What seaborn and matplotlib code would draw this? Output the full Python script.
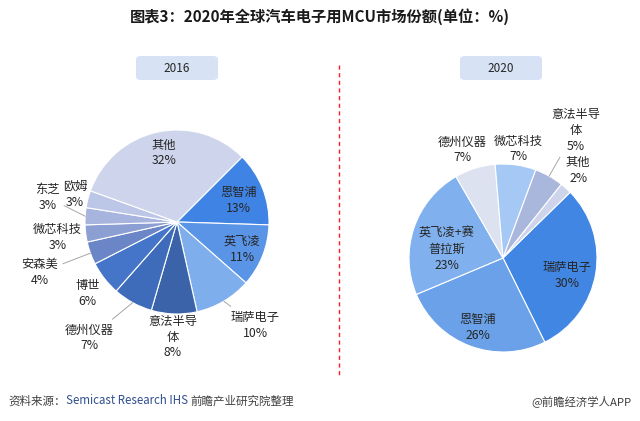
import numpy as np
import matplotlib
matplotlib.use('Agg')
import matplotlib.pyplot as plt
import seaborn as sns
from matplotlib.patches import FancyBboxPatch
from matplotlib.lines import Line2D

sns.set_theme(style='white')
# 中文字体, 缺字时回落到 DejaVu Sans
plt.rcParams['font.family'] = ['Noto Sans CJK SC', 'DejaVu Sans']

# 2016年市场份额
names_2016 = ['恩智浦', '英飞凌', '瑞萨电子', '意法半导\n体', '德州仪器', '博世',
              '安森美', '微芯科技', '东芝', '欧姆', '其他']
shares_2016 = [13, 11, 10, 8, 7, 6, 4, 3, 3, 3, 32]

# 2020年市场份额
names_2020 = ['瑞萨电子', '恩智浦', '英飞凌+赛\n普拉斯', '德州仪器', '微芯科技',
              '意法半导\n体', '其他']
shares_2020 = [30, 26, 23, 7, 7, 5, 2]

# 颜色
colors_2016 = ['#3F84E5', '#5A94E7', '#7FAEEC', '#3A63AA', '#3E6CBA', '#4575C9',
               '#6B86C6', '#8C9FD3', '#A7B4DE', '#BCC6E6', '#CDD4EB']
colors_2020 = ['#4286E4', '#6AA1E9', '#80B1EE', '#DDE2F1', '#A5C9F4', '#AAB7DD', '#CDD4EB']

# 标签位置(单位: 饼图半径), 是否画引线
pos_2016 = [(0.67, 0.23), (0.71, -0.30), (0.85, -1.12), (-0.05, -1.25), (-0.95, -1.26),
            (-0.97, -0.78), (-1.49, -0.55), (-1.30, -0.17), (-1.41, 0.27), (-1.11, 0.30),
            (-0.14, 0.75)]
lead_2016 = [False, False, True, False, True, False, True, False, True, False, False]
pos_2020 = [(0.68, -0.19), (-0.27, -0.74), (-0.60, 0.09), (-0.43, 1.15), (0.16, 1.16),
            (0.77, 1.36), (0.80, 0.93)]
lead_2020 = [False, False, False, False, False, True, False]

W, H = 640, 421
fig = plt.figure(figsize=(W / 100, H / 100), dpi=100)


def pie_axes(cx, cy, r, xlim, ylim):
    # cx, cy 为像素坐标(左上角为原点), r 为半径像素
    left = cx + xlim[0] * r
    width = (xlim[1] - xlim[0]) * r
    top = cy - ylim[1] * r
    height = (ylim[1] - ylim[0]) * r
    ax = fig.add_axes([left / W, 1 - (top + height) / H, width / W, height / H])
    return ax


def draw_pie(ax, names, shares, colors, pos, lead, start, xlim, ylim):
    wedges, _ = ax.pie(shares, colors=colors, startangle=start, counterclock=False,
                       radius=1, wedgeprops=dict(edgecolor='white', linewidth=0.8))
    for w, name, s, (tx, ty), ld in zip(wedges, names, shares, pos, lead):
        txt = f'{name}\n{s}%'
        kw = dict(ha='center', va='center', fontsize=8.8, color='#262626',
                  multialignment='center', linespacing=1.3)
        if ld:
            ang = np.deg2rad((w.theta1 + w.theta2) / 2)
            ax.annotate(txt, xy=(np.cos(ang), np.sin(ang)), xytext=(tx, ty),
                        arrowprops=dict(arrowstyle='-', color='#A6A6A6', lw=0.7,
                                        shrinkA=1, shrinkB=0), **kw)
        else:
            ax.text(tx, ty, txt, **kw)
    ax.set_xlim(xlim)
    ax.set_ylim(ylim)
    ax.set_aspect('equal')
    ax.axis('off')


xl1, yl1 = (-1.9, 1.9), (-1.6, 1.6)
ax1 = pie_axes(177, 222, 92, xl1, yl1)
draw_pie(ax1, names_2016, shares_2016, colors_2016, pos_2016, lead_2016, 45, xl1, yl1)

xl2, yl2 = (-1.7, 1.7), (-1.2, 1.6)
ax2 = pie_axes(503, 258, 94, xl2, yl2)
draw_pie(ax2, names_2020, shares_2020, colors_2020, pos_2020, lead_2020, 44.4, xl2, yl2)

# 标题
fig.text(0.5, 1 - 17 / H, '图表3：2020年全球汽车电子用MCU市场份额(单位：%)',
         ha='center', va='center', fontsize=11, fontweight='bold', color='#1A1A1A')

# 年份标签框
for year, cx in [('2016', 177), ('2020', 501)]:
    box = FancyBboxPatch(((cx - 41) / W, 1 - 80 / H), 82 / W, 24 / H,
                         boxstyle='round,pad=0,rounding_size=0.008',
                         transform=fig.transFigure, facecolor='#D7E3F5',
                         edgecolor='none')
    fig.add_artist(box)
    fig.text(cx / W, 1 - 68 / H, year, ha='center', va='center', fontsize=8.5,
             color='#262626')

# 红色虚线分隔
fig.add_artist(Line2D([339 / W, 339 / W], [1 - 65 / H, 1 - 376 / H],
                      transform=fig.transFigure, color='#FF2020', lw=1.0,
                      linestyle=(0, (3, 2.5))))

# 资料来源
fig.canvas.draw()
r = fig.canvas.get_renderer()
x = 8 / W
y = 1 - 401 / H
for part, c in [('资料来源：', '#404040'), ('Semicast Research IHS ', '#2F4F8F'),
                ('前瞻产业研究院整理', '#404040')]:
    t = fig.text(x, y, part, ha='left', va='center', fontsize=8.3, color=c)
    bb = t.get_window_extent(renderer=r)
    x += bb.width / W
fig.text(632 / W, y, '@前瞻经济学人APP', ha='right', va='center', fontsize=8.2,
         color='#404040')

fig.savefig('out.png', dpi=100, facecolor='white')
